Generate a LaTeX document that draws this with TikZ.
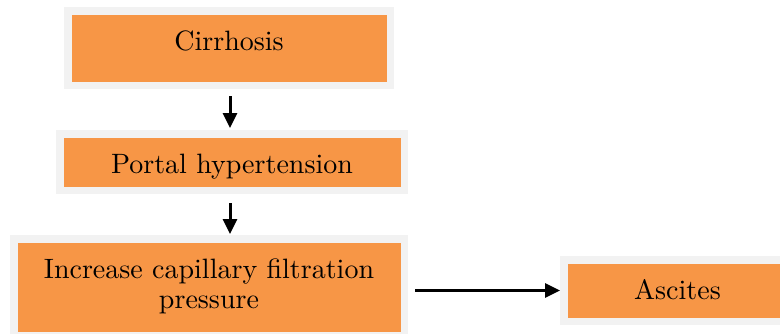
\documentclass[tikz,border=0pt]{standalone}
\usetikzlibrary{arrows.meta}
\definecolor{boxorange}{HTML}{F79646}
\definecolor{boxgray}{HTML}{F2F2F2}
\newcommand{\boxtext}[2][0pt]{\raisebox{#1}[\height][\depth]{\scalebox{2.8}{\fontsize{10}{10.5}\selectfont\begin{tabular}{@{}c@{}}#2\end{tabular}}}}
\begin{document}
\begin{tikzpicture}[x=1pt,y=-1pt,
  flowbox/.style={draw=boxgray, line width=7.5pt, fill=boxorange, inner sep=0pt, align=center},
  flowarrow/.style={line width=3pt, -{Triangle[length=15pt,width=14pt]}}]
\useasboundingbox (0,0) rectangle (780,333);
\node[flowbox, minimum width=322.5pt, minimum height=74.5pt] (b1) at (229,48) {\boxtext[3pt]{Cirrhosis}};
\node[flowbox, minimum width=344.5pt, minimum height=56.5pt] (b2) at (232,162) {\boxtext[-6pt]{Portal hypertension}};
\node[flowbox, minimum width=390.5pt, minimum height=96.5pt] (b3) at (209,287) {\boxtext[-0.5pt]{Increase capillary filtration\\pressure}};
\node[flowbox, minimum width=227.5pt, minimum height=61.5pt] (b4) at (677.5,290.5) {\boxtext[-3.5pt]{Ascites}};
\coordinate (a1s) at ([xshift=1pt]b1.south);
\draw[flowarrow, shorten <=7pt, shorten >=2pt] (a1s) -- (a1s |- b2.north);
\coordinate (a2s) at ([xshift=-2pt]b2.south);
\draw[flowarrow, shorten <=9pt, shorten >=1pt] (a2s) -- (a2s |- b3.north);
\coordinate (a3s) at (b3.east |- b4.west);
\draw[flowarrow, shorten <=7pt, shorten >=0pt] (a3s) -- (b4.west);
\end{tikzpicture}
\end{document}
